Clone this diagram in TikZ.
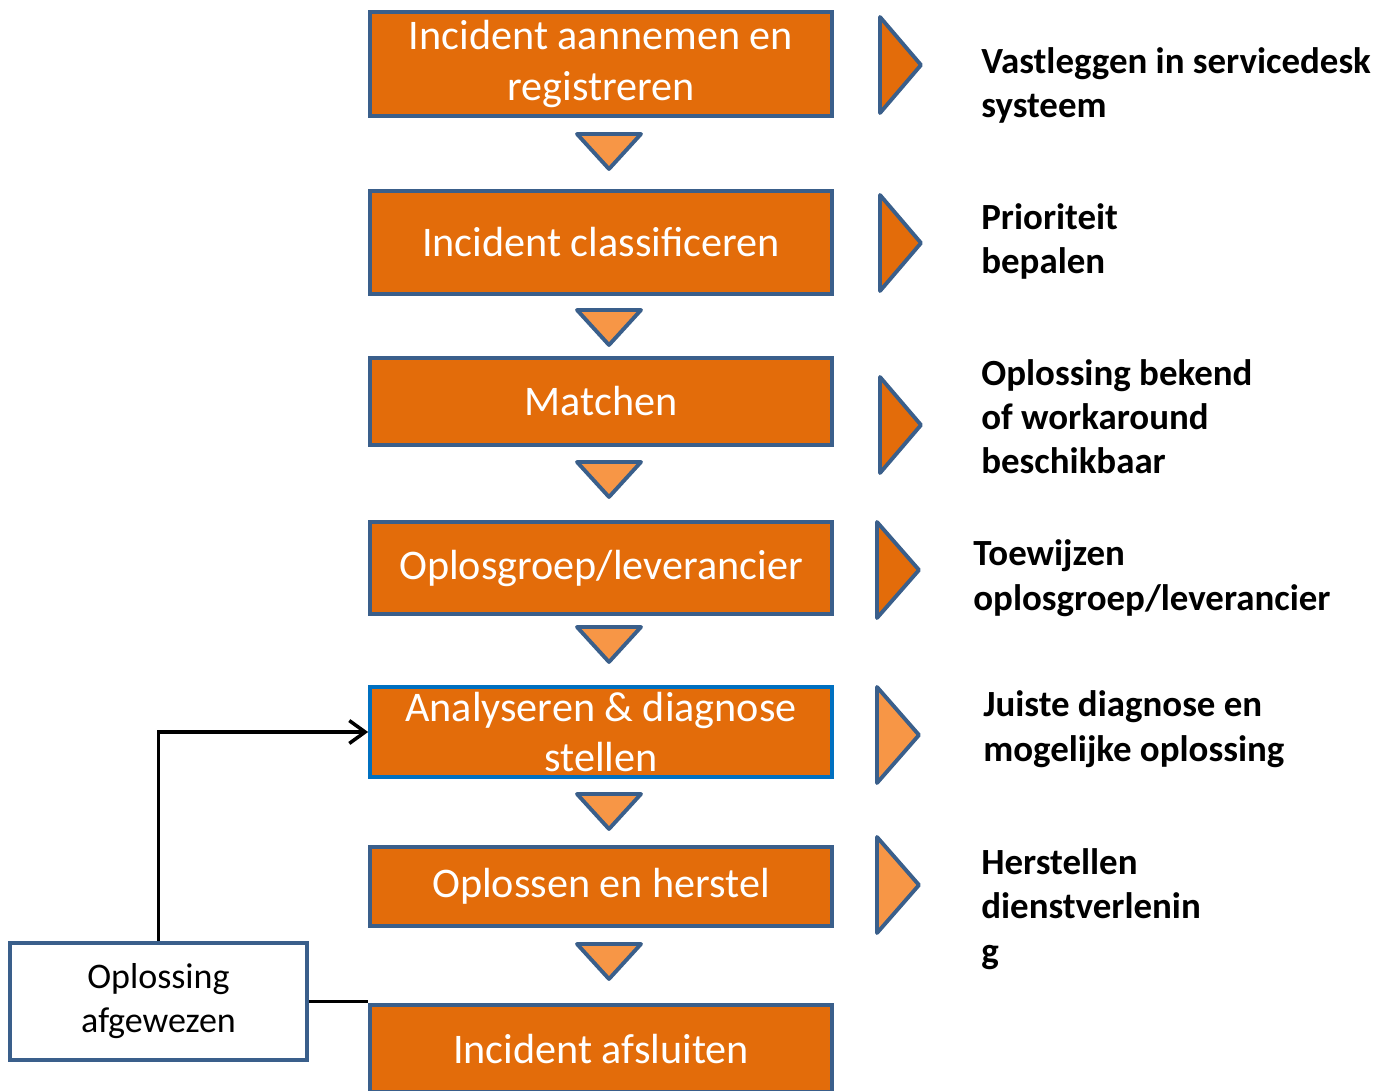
\documentclass[tikz,border=0pt]{standalone}
\usepackage{fontspec}
\setmainfont{Carlito}
\usetikzlibrary{arrows.meta}
\definecolor{boxorange}{HTML}{E36C0A}
\definecolor{lightorange}{HTML}{F79646}
\definecolor{edgeblue}{HTML}{3A5F8B}
\definecolor{brightblue}{HTML}{0070C0}

\begin{document}
\begin{tikzpicture}[
        x=0.02cm, y=-0.02cm,
        stepbox/.style={draw=edgeblue, line width=2.2pt, fill=boxorange, text=white, minimum width=9.24cm, align=center, inner sep=0pt, font=\fontsize{24}{28.5}\selectfont},
        downtri/.style={draw=edgeblue, line width=2.2pt, fill=lightorange, line join=round},
        sidetri/.style={draw=edgeblue, line width=2.2pt, fill=boxorange, line join=round},
        sidenote/.style={anchor=base west, align=left, inner sep=0pt, font=\fontsize{21}{25.3}\selectfont\bfseries},
        feedback/.style={black, line width=2pt}
    ]

    \useasboundingbox (0,0) rectangle (1384,1091);
    \clip (0,0) rectangle (1384,1091);

    % ==========================================
    % PROCESS STEPS
    % ==========================================
    \node[stepbox, minimum height=2.08cm] (aannemen) at (601,64) {Incident aannemen en\\registreren};
    \node[stepbox, minimum height=2.06cm] (classificeren) at (601,242.5) {Incident classificeren};
    \node[stepbox, minimum height=1.74cm] (matchen) at (601,401.5) {Matchen};
    \node[stepbox, minimum height=1.84cm] (oplosgroep) at (601,568) {Oplosgroep/leverancier};
    \node[stepbox, draw=brightblue, minimum height=1.80cm] (analyse) at (601,732) {Analyseren \& diagnose\\stellen};
    \node[stepbox, minimum height=1.58cm] (herstel) at (601,886.5) {Oplossen en herstel};
    \node[stepbox, anchor=north, minimum height=1.75cm] (afsluiten) at (601,1003) {Incident afsluiten};

    % down triangles between the steps
    \draw[downtri] (577,134) -- ++(64,0) -- ++(-32,35) -- cycle;
    \draw[downtri] (577,310) -- ++(64,0) -- ++(-32,35) -- cycle;
    \draw[downtri] (577,462) -- ++(64,0) -- ++(-32,35) -- cycle;
    \draw[downtri] (577,627) -- ++(64,0) -- ++(-32,35) -- cycle;
    \draw[downtri] (577,794) -- ++(64,0) -- ++(-32,35) -- cycle;
    \draw[downtri] (577,944) -- ++(64,0) -- ++(-32,35) -- cycle;

    % ==========================================
    % RESULTS (right side)
    % ==========================================
    \draw[sidetri] (880,17) -- ++(41,48) -- ++(-41,48) -- cycle;
    \draw[sidetri] (880,195) -- ++(41,48) -- ++(-41,48) -- cycle;
    \draw[sidetri] (880,377) -- ++(41,48) -- ++(-41,48) -- cycle;
    \draw[sidetri] (877,522) -- ++(42,48) -- ++(-42,48) -- cycle;
    \draw[sidetri, fill=lightorange] (877,687) -- ++(42,48) -- ++(-42,48) -- cycle;
    \draw[sidetri, fill=lightorange] (877,837) -- ++(42,48) -- ++(-42,48) -- cycle;

    % base anchor sits on the last line
    \node[sidenote] (vastleggen) at (981,118) {Vastleggen in servicedesk\\systeem};
    \node[sidenote] (prioriteit) at (981,274) {Prioriteit\\bepalen};
    \node[sidenote] (bekend) at (981,474) {Oplossing bekend\\of workaround\\beschikbaar};
    \node[sidenote] (toewijzen) at (973,610) {Toewijzen\\oplosgroep/leverancier};
    \node[sidenote] (diagnose) at (983,761) {Juiste diagnose en\\mogelijke oplossing};
    \node[sidenote] (herstellen) at (981,963) {Herstellen\\dienstverlenin\\g};

    % ==========================================
    % REJECTED SOLUTION (feedback)
    % ==========================================
    \node[draw=edgeblue, line width=2.2pt, fill=white, minimum width=5.94cm, minimum height=2.34cm, align=center, inner sep=0pt, font=\fontsize{20.5}{25}\selectfont] (afgewezen) at (158.5,1001.5) {Oplossing\\afgewezen};

    \draw[feedback, -{Straight Barb[length=9pt, width=13pt]}] (afgewezen.north) |- (analyse.west);
    \draw[feedback] (afgewezen.east) -- (afgewezen.east -| afsluiten.west);

\end{tikzpicture}
\end{document}
